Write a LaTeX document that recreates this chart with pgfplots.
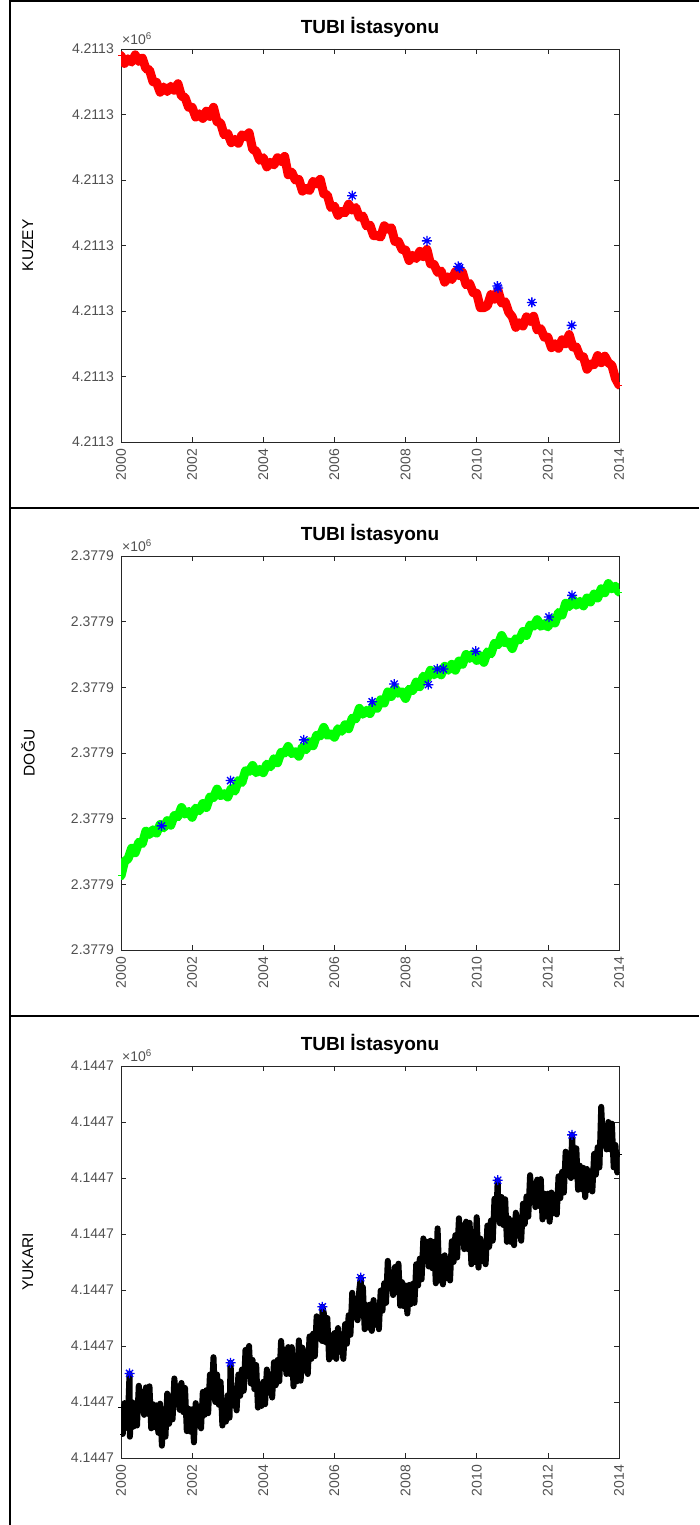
\documentclass[border=0pt]{standalone}
\usepackage{fontspec}
\setmainfont{Liberation Sans}
\usepackage{pgfplots}
\usepackage{pgfplotstable}
\pgfplotsset{compat=1.18}

\definecolor{axisgray}{RGB}{38,38,38}
\definecolor{labelgray}{RGB}{80,80,80}

% eight-armed star marker
\pgfdeclareplotmark{mstar}{%
  \pgfpathmoveto{\pgfpoint{-\pgfplotmarksize}{0pt}}\pgfpathlineto{\pgfpoint{\pgfplotmarksize}{0pt}}%
  \pgfpathmoveto{\pgfpoint{0pt}{-\pgfplotmarksize}}\pgfpathlineto{\pgfpoint{0pt}{\pgfplotmarksize}}%
  \pgfpathmoveto{\pgfpoint{-0.707\pgfplotmarksize}{-0.707\pgfplotmarksize}}\pgfpathlineto{\pgfpoint{0.707\pgfplotmarksize}{0.707\pgfplotmarksize}}%
  \pgfpathmoveto{\pgfpoint{-0.707\pgfplotmarksize}{0.707\pgfplotmarksize}}\pgfpathlineto{\pgfpoint{0.707\pgfplotmarksize}{-0.707\pgfplotmarksize}}%
  \pgfusepathqstroke}

% North component (tick offsets)
\pgfplotstableread{
t v
2000.0 5.90
2000.1 5.78
2000.2 5.85
2000.3 5.80
2000.4 5.91
2000.5 5.81
2000.6 5.86
2000.7 5.70
2000.8 5.68
2000.9 5.50
2001.0 5.49
2001.1 5.34
2001.2 5.42
2001.3 5.35
2001.4 5.43
2001.5 5.37
2001.6 5.47
2001.7 5.28
2001.8 5.26
2001.9 5.11
2002.0 5.11
2002.1 4.96
2002.2 5.01
2002.3 4.94
2002.4 5.05
2002.5 4.97
2002.6 5.11
2002.7 4.89
2002.8 4.87
2002.9 4.69
2003.0 4.71
2003.1 4.57
2003.2 4.62
2003.3 4.56
2003.4 4.69
2003.5 4.66
2003.6 4.72
2003.7 4.47
2003.8 4.44
2003.9 4.30
2004.0 4.34
2004.1 4.20
2004.2 4.27
2004.3 4.23
2004.4 4.34
2004.5 4.28
2004.6 4.36
2004.7 4.08
2004.8 4.12
2004.9 4.00
2005.0 4.01
2005.1 3.83
2005.2 3.87
2005.3 3.84
2005.4 3.98
2005.5 3.94
2005.6 4.01
2005.7 3.79
2005.8 3.77
2005.9 3.58
2006.0 3.60
2006.1 3.46
2006.2 3.52
2006.3 3.50
2006.4 3.63
2006.5 3.54
2006.6 3.58
2006.7 3.43
2006.8 3.45
2006.9 3.30
2007.0 3.31
2007.1 3.15
2007.2 3.15
2007.3 3.13
2007.4 3.30
2007.5 3.25
2007.6 3.27
2007.7 3.06
2007.8 3.06
2007.9 2.94
2008.0 2.93
2008.1 2.77
2008.2 2.85
2008.3 2.80
2008.4 2.91
2008.5 2.83
2008.6 2.94
2008.7 2.72
2008.8 2.71
2008.9 2.59
2009.0 2.61
2009.1 2.44
2009.2 2.52
2009.3 2.48
2009.4 2.60
2009.5 2.54
2009.6 2.59
2009.7 2.40
2009.8 2.42
2009.9 2.28
2010.0 2.27
2010.1 2.05
2010.2 2.05
2010.3 2.08
2010.4 2.25
2010.5 2.18
2010.6 2.31
2010.7 2.12
2010.8 2.14
2010.9 1.98
2011.0 1.91
2011.1 1.75
2011.2 1.82
2011.3 1.77
2011.4 1.91
2011.5 1.84
2011.6 1.92
2011.7 1.71
2011.8 1.73
2011.9 1.60
2012.0 1.60
2012.1 1.44
2012.2 1.50
2012.3 1.43
2012.4 1.56
2012.5 1.50
2012.6 1.64
2012.7 1.45
2012.8 1.45
2012.9 1.31
2013.0 1.30
2013.1 1.11
2013.2 1.19
2013.3 1.18
2013.4 1.32
2013.5 1.21
2013.6 1.31
2013.7 1.21
2013.8 1.17
2013.9 0.97
2014.0 0.87
}\kuzey

% East component
\pgfplotstableread{
t v
2000.0 1.13
2000.1 1.35
2000.2 1.39
2000.3 1.55
2000.4 1.48
2000.5 1.64
2000.6 1.62
2000.7 1.81
2000.8 1.76
2000.9 1.83
2001.0 1.78
2001.1 1.91
2001.2 1.86
2001.3 1.97
2001.4 1.90
2001.5 2.05
2001.6 2.03
2001.7 2.17
2001.8 2.07
2001.9 2.11
2002.0 2.02
2002.1 2.16
2002.2 2.12
2002.3 2.23
2002.4 2.17
2002.5 2.33
2002.6 2.32
2002.7 2.45
2002.8 2.35
2002.9 2.38
2003.0 2.33
2003.1 2.46
2003.2 2.42
2003.3 2.58
2003.4 2.55
2003.5 2.73
2003.6 2.72
2003.7 2.81
2003.8 2.70
2003.9 2.75
2004.0 2.70
2004.1 2.83
2004.2 2.79
2004.3 2.91
2004.4 2.85
2004.5 3.01
2004.6 3.00
2004.7 3.10
2004.8 2.99
2004.9 3.02
2005.0 2.95
2005.1 3.09
2005.2 3.05
2005.3 3.17
2005.4 3.11
2005.5 3.27
2005.6 3.26
2005.7 3.39
2005.8 3.27
2005.9 3.29
2006.0 3.24
2006.1 3.37
2006.2 3.33
2006.3 3.43
2006.4 3.37
2006.5 3.53
2006.6 3.52
2006.7 3.68
2006.8 3.59
2006.9 3.65
2007.0 3.60
2007.1 3.73
2007.2 3.68
2007.3 3.81
2007.4 3.76
2007.5 3.93
2007.6 3.86
2007.7 3.99
2007.8 3.91
2007.9 3.93
2008.0 3.83
2008.1 3.97
2008.2 3.95
2008.3 4.08
2008.4 4.01
2008.5 4.17
2008.6 4.13
2008.7 4.26
2008.8 4.19
2008.9 4.26
2009.0 4.19
2009.1 4.32
2009.2 4.26
2009.3 4.35
2009.4 4.26
2009.5 4.40
2009.6 4.35
2009.7 4.50
2009.8 4.44
2009.9 4.51
2010.0 4.41
2010.1 4.48
2010.2 4.38
2010.3 4.54
2010.4 4.51
2010.5 4.67
2010.6 4.65
2010.7 4.79
2010.8 4.68
2010.9 4.69
2011.0 4.59
2011.1 4.74
2011.2 4.72
2011.3 4.85
2011.4 4.79
2011.5 4.95
2011.6 4.93
2011.7 5.03
2011.8 4.93
2011.9 4.97
2012.0 4.92
2012.1 5.04
2012.2 4.98
2012.3 5.14
2012.4 5.10
2012.5 5.28
2012.6 5.23
2012.7 5.34
2012.8 5.25
2012.9 5.31
2013.0 5.24
2013.1 5.36
2013.2 5.30
2013.3 5.42
2013.4 5.36
2013.5 5.50
2013.6 5.44
2013.7 5.58
2013.8 5.50
2013.9 5.54
2014.0 5.45
}\dogu

% Up component
\pgfplotstableread{
t v
2000.00 0.90
2000.05 0.43
2000.10 0.98
2000.15 0.54
2000.20 0.80
2000.24 1.51
2000.25 0.38
2000.30 1.00
2000.35 0.56
2000.40 0.98
2000.45 0.58
2000.50 1.29
2000.55 0.90
2000.60 1.18
2000.65 0.77
2000.70 1.26
2000.75 0.79
2000.80 1.28
2000.85 0.53
2000.90 0.96
2000.95 0.55
2001.00 0.94
2001.05 0.45
2001.10 0.97
2001.15 0.22
2001.20 0.79
2001.25 0.38
2001.30 1.15
2001.35 0.61
2001.40 1.06
2001.45 0.69
2001.50 1.42
2001.55 1.02
2001.60 1.28
2001.65 0.86
2001.70 1.34
2001.75 0.82
2001.80 1.25
2001.85 0.48
2001.90 0.88
2001.95 0.47
2002.00 0.87
2002.05 0.28
2002.10 0.98
2002.15 0.60
2002.20 0.91
2002.25 0.53
2002.30 1.18
2002.35 0.77
2002.40 1.21
2002.45 0.80
2002.50 1.49
2002.55 1.12
2002.60 1.80
2002.65 1.00
2002.70 1.49
2002.75 0.95
2002.80 1.36
2002.85 0.58
2002.90 0.98
2002.95 0.65
2003.00 1.12
2003.05 0.72
2003.08 1.70
2003.10 1.33
2003.15 0.94
2003.20 1.24
2003.25 0.85
2003.30 1.49
2003.35 1.11
2003.40 1.58
2003.45 1.20
2003.50 1.93
2003.55 1.54
2003.60 2.00
2003.65 1.33
2003.70 1.75
2003.75 1.23
2003.80 1.66
2003.85 0.90
2003.90 1.31
2003.95 0.93
2004.00 1.36
2004.05 0.96
2004.10 1.58
2004.15 1.19
2004.20 1.49
2004.25 1.08
2004.30 1.71
2004.35 1.30
2004.40 1.75
2004.45 1.37
2004.50 2.09
2004.55 1.68
2004.60 1.93
2004.65 1.50
2004.70 1.98
2004.75 1.50
2004.80 1.98
2004.85 1.28
2004.90 1.75
2004.95 1.37
2005.00 2.10
2005.05 1.38
2005.10 1.97
2005.15 1.57
2005.20 1.87
2005.25 1.50
2005.30 2.17
2005.35 1.77
2005.40 2.22
2005.45 1.82
2005.50 2.53
2005.55 2.18
2005.60 2.49
2005.65 2.09
2005.66 2.70
2005.70 2.59
2005.75 2.07
2005.80 2.50
2005.85 1.76
2005.90 2.19
2005.95 1.81
2006.00 2.23
2006.05 1.77
2006.10 2.32
2006.15 1.90
2006.20 2.18
2006.25 1.77
2006.30 2.39
2006.35 2.04
2006.40 2.55
2006.45 2.20
2006.50 2.95
2006.55 2.55
2006.60 2.82
2006.65 2.46
2006.70 3.01
2006.74 3.22
2006.75 2.55
2006.80 3.05
2006.85 2.30
2006.90 2.73
2006.95 2.33
2007.00 2.74
2007.05 2.27
2007.10 2.82
2007.15 2.38
2007.20 2.64
2007.25 2.30
2007.30 2.99
2007.35 2.63
2007.40 3.12
2007.45 2.77
2007.50 3.52
2007.55 3.08
2007.60 3.31
2007.65 2.91
2007.70 3.41
2007.75 2.96
2007.80 3.47
2007.85 2.72
2007.90 3.14
2007.95 2.71
2008.00 3.08
2008.05 2.58
2008.10 3.09
2008.15 2.75
2008.20 3.11
2008.25 2.77
2008.30 3.46
2008.35 3.08
2008.40 3.56
2008.45 3.19
2008.50 3.92
2008.55 3.56
2008.60 3.86
2008.65 3.42
2008.70 3.88
2008.75 3.39
2008.80 3.86
2008.85 3.12
2008.90 4.10
2008.95 3.17
2009.00 3.59
2009.05 3.10
2009.10 3.62
2009.15 3.21
2009.20 3.50
2009.25 3.17
2009.30 3.87
2009.35 3.50
2009.40 3.98
2009.45 3.58
2009.50 4.28
2009.55 3.88
2009.60 4.15
2009.65 3.73
2009.70 4.22
2009.75 3.73
2009.80 4.20
2009.85 3.46
2009.90 3.90
2009.95 3.50
2010.00 4.30
2010.05 3.40
2010.10 3.92
2010.15 3.52
2010.20 3.81
2010.25 3.46
2010.30 4.15
2010.35 3.77
2010.40 4.24
2010.45 3.88
2010.50 4.63
2010.55 4.30
2010.59 4.96
2010.60 4.63
2010.65 4.19
2010.70 4.66
2010.75 4.16
2010.80 4.62
2010.85 3.86
2010.90 4.28
2010.95 3.86
2011.00 4.24
2011.05 3.80
2011.10 4.38
2011.15 3.97
2011.20 4.26
2011.25 3.88
2011.30 4.54
2011.35 4.18
2011.40 4.67
2011.45 4.31
2011.50 5.05
2011.55 4.64
2011.60 4.90
2011.65 4.48
2011.70 4.97
2011.75 4.50
2011.80 4.98
2011.85 4.26
2011.90 4.72
2011.95 4.32
2012.00 4.72
2012.05 4.22
2012.10 4.74
2012.15 4.37
2012.20 4.70
2012.25 4.35
2012.30 5.03
2012.35 4.64
2012.40 5.11
2012.45 4.74
2012.50 5.47
2012.55 5.11
2012.60 5.41
2012.65 5.00
2012.68 5.77
2012.70 5.49
2012.75 5.03
2012.80 5.53
2012.85 4.79
2012.90 5.22
2012.95 4.80
2013.00 5.18
2013.05 4.66
2013.10 5.16
2013.15 4.79
2013.20 5.12
2013.25 4.76
2013.30 5.43
2013.35 5.06
2013.40 5.55
2013.45 5.19
2013.50 6.27
2013.55 5.60
2013.60 5.93
2013.65 5.51
2013.70 6.00
2013.75 5.51
2013.80 5.97
2013.85 5.19
2013.90 5.59
2013.95 5.10
2014.00 5.42
}\yukari

\pgfplotsset{
  gpsaxis/.style={
    scale only axis, width=498pt,
    xmin=2000, xmax=2014,
    xtick={2000,2002,...,2014},
    xticklabels={2000,2002,2004,2006,2008,2010,2012,2014},
    tick align=inside, tick pos=both,
    major tick length=5pt,
    axis line style={axisgray, line width=0.7pt},
    every tick/.style={axisgray, line width=0.6pt},
    ticklabel style={font=\fontsize{14pt}{14pt}\selectfont, text=labelgray},
    xticklabel style={rotate=90, anchor=east, inner xsep=7pt, inner ysep=0pt},
    yticklabel style={anchor=east, inner xsep=7pt, inner ysep=0pt},
    title={TUBI İstasyonu},
    title style={font=\fontsize{19pt}{19pt}\selectfont\bfseries, at={(axis description cs:0.5,1)}, anchor=base, yshift=9pt},
    ylabel style={font=\fontsize{15.5pt}{15.5pt}\selectfont, at={(axis description cs:-0.187,0.5)}, anchor=center},
    extra description/.code={
      \node[anchor=base west, inner sep=0pt, xshift=1pt, yshift=4pt, text=labelgray,
            font=\fontsize{14pt}{14pt}\selectfont] at (0,1) {×10\textsuperscript{6}};
    },
  },
  % solid core of a dense daily series
  kalin/.style={no marks, line width=9pt, line join=round, line cap=round},
  % ragged edge with the individual daily markers
  serie/.style={mark=+, mark size=3pt, line width=0.6pt},
  yildiz/.style={only marks, mark=mstar, mark size=5pt, line width=1.3pt, color=blue},
}

\begin{document}
\begin{tikzpicture}
\useasboundingbox (0pt,0pt) rectangle (699pt,1525pt);

% cell frame
\draw[line width=2.4pt] (10pt,0pt) -- (10pt,1525pt);
\draw[line width=2.4pt] (10pt,1523.8pt) -- (699pt,1523.8pt);
\draw[line width=2.4pt] (10pt,1017pt) -- (699pt,1017pt);
\draw[line width=2.4pt] (10pt,509pt) -- (699pt,509pt);

% KUZEY
\begin{axis}[gpsaxis, at={(121pt,1083pt)}, anchor=south west, height=393pt,
  ymin=0, ymax=6, ytick={0,...,6},
  yticklabels={4.2113,4.2113,4.2113,4.2113,4.2113,4.2113,4.2113},
  ylabel={KUZEY}]
\addplot[kalin, color=red] table[x=t, y=v] {\kuzey};
\addplot[serie, color=red] table[x=t, y=v] {\kuzey};
\addplot[yildiz] coordinates {(2006.50,3.76) (2008.60,3.07) (2009.48,2.68) (2009.52,2.66) (2010.58,2.38) (2010.60,2.35) (2011.55,2.13) (2012.67,1.78)};
\end{axis}

% DOGU
\begin{axis}[gpsaxis, at={(121pt,575pt)}, anchor=south west, height=394pt,
  ymin=0, ymax=6, ytick={0,...,6},
  yticklabels={2.3779,2.3779,2.3779,2.3779,2.3779,2.3779,2.3779},
  ylabel={DOĞU}]
\addplot[kalin, color=green] table[x=t, y=v] {\dogu};
\addplot[serie, color=green] table[x=t, y=v] {\dogu};
\addplot[yildiz] coordinates {(2001.14,1.89) (2003.08,2.58) (2005.14,3.20) (2007.06,3.78) (2007.68,4.05) (2008.64,4.04) (2008.89,4.28) (2009.06,4.28) (2009.97,4.55) (2012.03,5.07) (2012.68,5.40)};
\end{axis}

% YUKARI
\begin{axis}[gpsaxis, at={(121pt,67pt)}, anchor=south west, height=392pt,
  ymin=0, ymax=7, ytick={0,...,7},
  yticklabels={4.1447,4.1447,4.1447,4.1447,4.1447,4.1447,4.1447,4.1447},
  ylabel={YUKARI}]
\addplot[kalin, color=black, line width=6pt] table[x=t, y=v] {\yukari};
\addplot[serie, color=black, mark size=2.6pt] table[x=t, y=v] {\yukari};
\addplot[yildiz] coordinates {(2000.24,1.51) (2003.08,1.70) (2005.66,2.70) (2006.74,3.22) (2010.59,4.96) (2012.68,5.77)};
\end{axis}
\end{tikzpicture}
\end{document}
